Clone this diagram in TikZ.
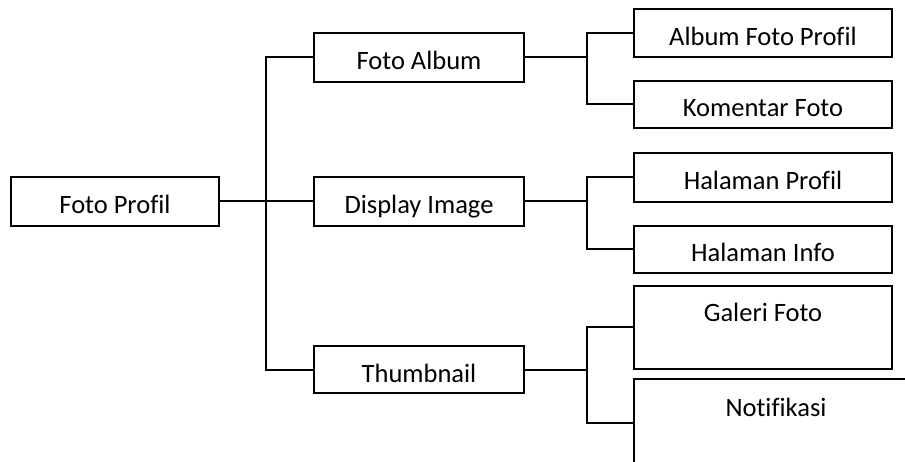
\documentclass[tikz,border=0pt]{standalone}
\usepackage{fontspec}
\setmainfont{Carlito}[Ligatures={NoCommon}]
\begin{document}
\begin{tikzpicture}[x=1pt,y=-1pt,
  box/.style={draw, line width=2pt, inner xsep=0pt, inner ysep=0pt,
    minimum height=0pt, font=\fontsize{26.5}{30}\selectfont, anchor=base,
    text height=#1},
  box/.default=37pt,
  link/.style={line width=2pt}]
\useasboundingbox (0,0) rectangle (905,462);
\clip (0,0) rectangle (905,462);
% level 0
\node[box, minimum width=208pt, text depth=12pt] (fp) at (115,214) {Foto Profil};
% level 1
\node[box, minimum width=210pt, text depth=12pt] (fa) at (419,70) {Foto Album};
\node[box, minimum width=210pt, text depth=12pt] (di) at (419,214) {Display Image};
\node[box=36pt, minimum width=210pt, text depth=11pt] (th) at (419,382) {Thumbnail};
% level 2
\node[box, minimum width=258pt, text depth=11pt] (afp) at (763,46) {Album Foto Profil};
\node[box=36pt, minimum width=258pt, text depth=11pt] (kf) at (763,117) {Komentar Foto};
\node[box, minimum width=258pt, text depth=12pt] (hp) at (763,190) {Halaman Profil};
\node[box=36pt, minimum width=258pt, text depth=11pt] (hi) at (763,262) {Halaman Info};
\node[box=36pt, minimum width=258pt, text depth=47pt] (gf) at (763,322) {Galeri Foto};
\node[box, minimum width=284pt, text depth=51pt] (nt) at (776,416) {Notifikasi};
% connectors
\draw[link] (fp.east) -- (di.west);
\draw[link] (fa.west) -- ++(-47,0) |- (fp.east);
\draw[link] (th.west) -- ++(-47,0) |- (fp.east);
\draw[link] (fa.east) -- ++(62,0) |- (afp.west);
\draw[link] (fa.east) -- ++(62,0) |- (kf.west);
\draw[link] (di.east) -- ++(62,0) |- (hp.west);
\draw[link] (di.east) -- ++(62,0) |- (hi.west);
\draw[link] (th.east) -- ++(62,0) |- (gf.west);
\draw[link] (th.east) -- ++(62,0) |- (nt.west);
\end{tikzpicture}
\end{document}
